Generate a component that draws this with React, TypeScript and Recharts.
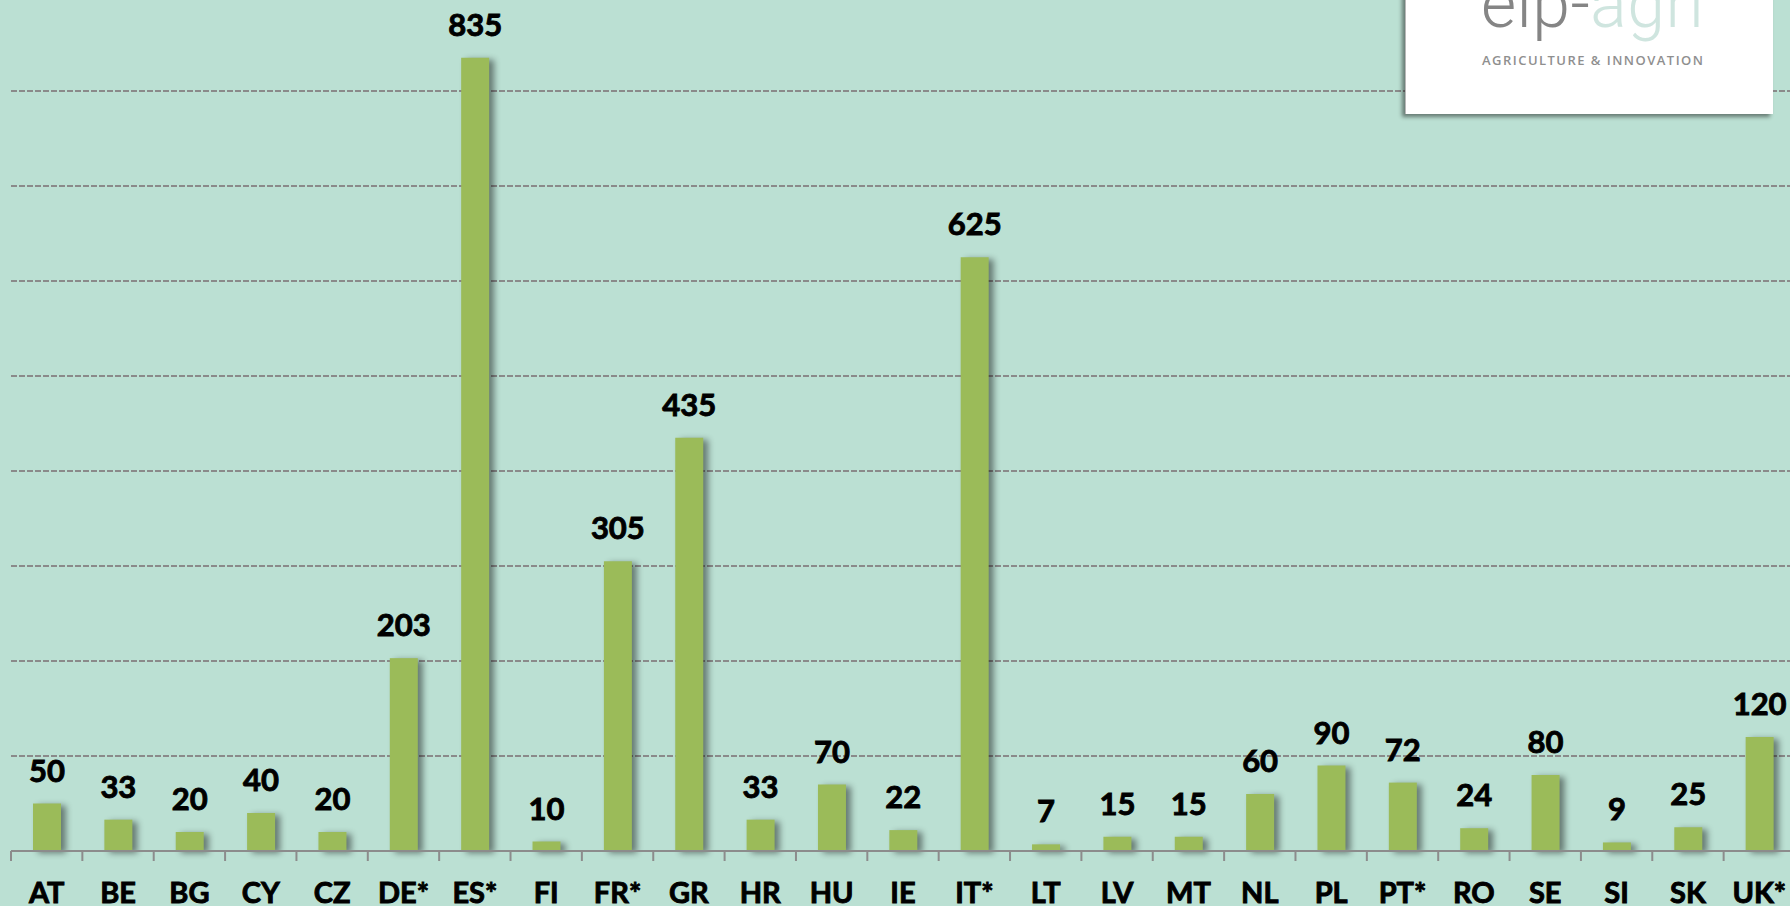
import React from "react";
import {
  BarChart,
  Bar,
  XAxis,
  YAxis,
  CartesianGrid,
  LabelList,
} from "recharts";

const countries = [
  "AT", "BE", "BG", "CY", "CZ", "DE*", "ES*", "FI", "FR*", "GR", "HR", "HU", "IE",
  "IT*", "LT", "LV", "MT", "NL", "PL", "PT*", "RO", "SE", "SI", "SK", "UK*",
];
const groups = [
  50, 33, 20, 40, 20, 203, 835, 10, 305, 435, 33, 70, 22,
  625, 7, 15, 15, 60, 90, 72, 24, 80, 9, 25, 120,
];
const yTicks = [0, 100, 200, 300, 400, 500, 600, 700, 800];

const CHART_W = 1795;
const CHART_H = 914;
const LEFT = 11;
const BAND = (CHART_W - LEFT) / countries.length;

const data = countries.map((c, i) => ({ country: c, groups: groups[i] }));

const ShadowBar = (props: any) => {
  const { x, y, width, height, fill } = props;
  return (
    <rect
      x={x}
      y={y}
      width={width}
      height={height}
      fill={fill}
      style={{ filter: "drop-shadow(5px 2px 3px rgba(0,0,0,0.45))" }}
    />
  );
};

// label at the category centre, tick mark on the left boundary (Excel style)
const CountryTick = (props: any) => {
  const { x, y, payload } = props;
  return (
    <g>
      <line x1={x - BAND / 2} y1={y - 10} x2={x - BAND / 2} y2={y} stroke="#8c8c8c" strokeWidth={2} />
      <text
        x={x}
        y={y + 42}
        textAnchor="middle"
        fill="#000"
        stroke="#000"
        strokeWidth={0.9}
        fontSize={29}
        fontWeight={700}
        fontFamily="Lato, 'Open Sans', sans-serif"
      >
        {payload.value}
      </text>
    </g>
  );
};

export default function App() {
  return (
    <div
      style={{
        position: "absolute",
        left: 0,
        top: 0,
        width: 1790,
        height: 906,
        overflow: "hidden",
        background: "#bbe0d3",
      }}
    >
      <div style={{ position: "absolute", left: 0, top: -4 }}>
        <BarChart
          width={CHART_W}
          height={CHART_H}
          data={data}
          margin={{ top: 0, right: 0, left: LEFT, bottom: 0 }}
        >
          <CartesianGrid
            vertical={false}
            horizontalValues={yTicks}
            stroke="#8a8a8a"
            strokeWidth={2}
            strokeDasharray="6 2"
          />
          <XAxis
            dataKey="country"
            height={59}
            interval={0}
            tickSize={10}
            tickMargin={0}
            tickLine={false}
            axisLine={{ stroke: "#8c8c8c", strokeWidth: 2 }}
            tick={<CountryTick />}
          />
          <YAxis
            width={0}
            domain={[0, 900]}
            ticks={yTicks}
            axisLine={false}
            tickLine={false}
            tick={{ fill: "transparent", fontSize: 1 }}
          />
          <Bar
            dataKey="groups"
            fill="#9bbb59"
            barSize={28}
            shape={<ShadowBar />}
            isAnimationActive={false}
          >
            <LabelList
              dataKey="groups"
              position="top"
              offset={22}
              fill="#000"
              stroke="#000"
              strokeWidth={0.9}
              fontSize={31}
              fontWeight={700}
              fontFamily="Lato, 'Open Sans', sans-serif"
            />
          </Bar>
        </BarChart>
      </div>

      {/* logo box, top right */}
      <div
        style={{
          position: "absolute",
          left: 1405,
          top: -10,
          width: 367,
          height: 124,
          background: "#ffffff",
          borderLeft: "1px solid #b8b8b8",
          boxShadow: "-3px 3px 4px rgba(0,0,0,0.45)",
        }}
      >
        <svg width={367} height={124} style={{ position: "absolute", left: 0, top: 0 }}>
          <text
            x={75}
            y={37}
            fontSize={68}
            fontWeight={300}
            fontFamily="Roboto, 'Open Sans', sans-serif"
            textLength={223}
            lengthAdjust="spacing"
          >
            <tspan fill="#858585">eip-</tspan>
            <tspan fill="#cfe5df">agri</tspan>
          </text>
          <text
            x={76}
            y={75}
            fontSize={13}
            fontWeight={600}
            fill="#8f8f8f"
            fontFamily="'Open Sans', sans-serif"
            textLength={221}
            lengthAdjust="spacing"
          >
            AGRICULTURE &amp; INNOVATION
          </text>
        </svg>
      </div>
    </div>
  );
}
